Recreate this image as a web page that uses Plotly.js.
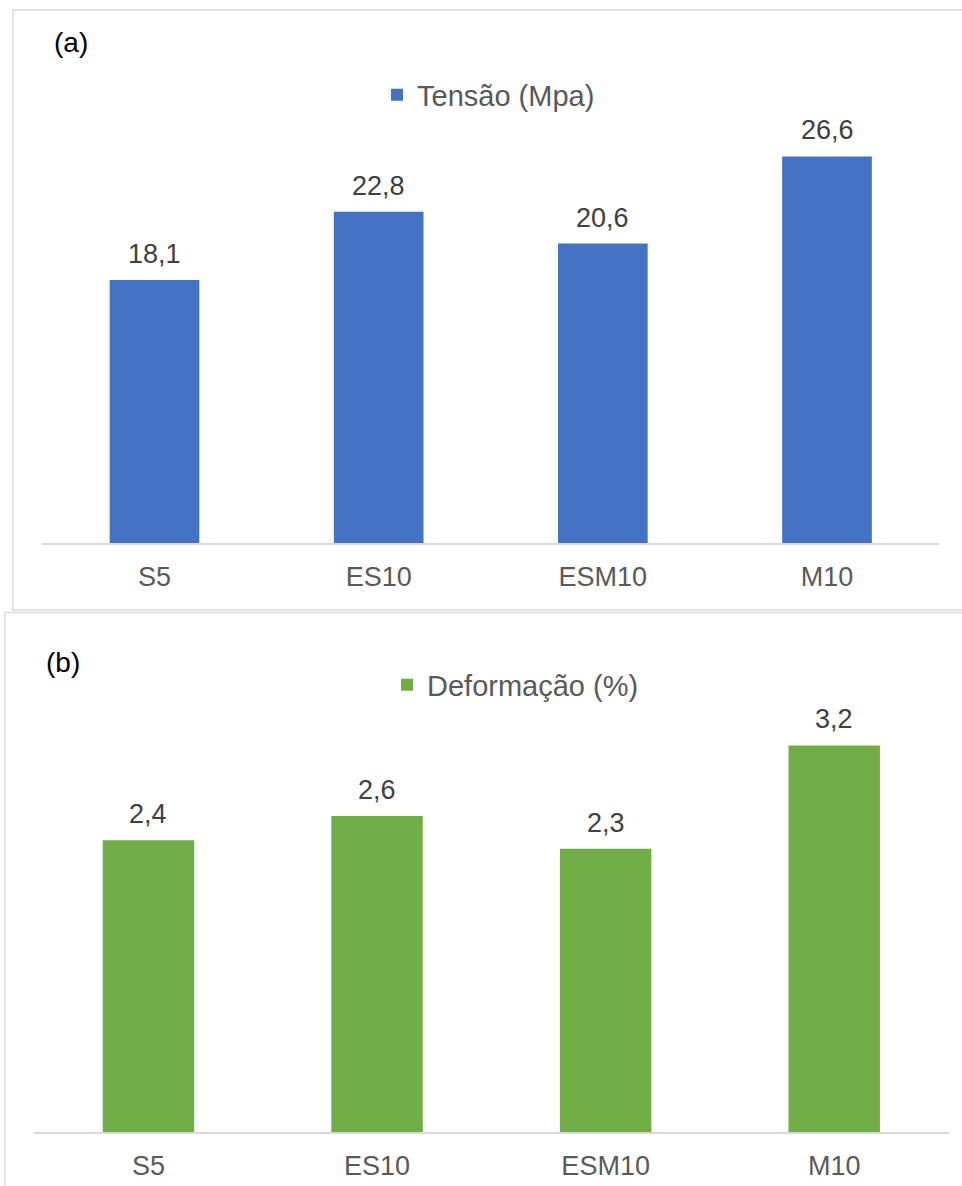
<!DOCTYPE html>
<html>
<head>
<meta charset="utf-8">
<script src="https://cdn.plot.ly/plotly-3.0.1.min.js"></script>
<style>
html,body{margin:0;padding:0;background:#fff;}
#chart{width:962px;height:1186px;}
</style>
</head>
<body>
<div id="chart"></div>
<script>
// ---- data ----
const categories = ["S5", "ES10", "ESM10", "M10"];
const tensao = [18.1, 22.8, 20.6, 26.6];          // Tensão (Mpa)
const deformacao = [2.4, 2.6, 2.33, 3.18];        // Deformação (%)
const tensaoLabels = ["18,1", "22,8", "20,6", "26,6"];
const deformacaoLabels = ["2,4", "2,6", "2,3", "3,2"];
const seriesNames = ["Tensão (Mpa)", "Deformação (%)"];
const panelLabels = ["(a)", "(b)"];

const W = 962, H = 1186;
const FONT = "Liberation Sans, Arial, sans-serif";
const px = v => v / W;
const py = v => 1 - v / H;

const traces = [
  {
    type: "bar", x: categories, y: tensao, name: seriesNames[0],
    xaxis: "x", yaxis: "y", legend: "legend",
    marker: {color: "#4472C4"}, hoverinfo: "x+y"
  },
  {
    type: "bar", x: categories, y: deformacao, name: seriesNames[1],
    xaxis: "x2", yaxis: "y2", legend: "legend2",
    marker: {color: "#70AD47"}, hoverinfo: "x+y"
  }
];

const annotations = [];
categories.forEach((c, i) => {
  annotations.push({x: c, y: tensao[i], xref: "x", yref: "y", text: tensaoLabels[i],
    showarrow: false, yanchor: "bottom", yshift: 9,
    font: {family: FONT, size: 27, color: "#404040"}});
  annotations.push({x: c, y: deformacao[i], xref: "x2", yref: "y2", text: deformacaoLabels[i],
    showarrow: false, yanchor: "bottom", yshift: 9,
    font: {family: FONT, size: 27, color: "#404040"}});
});
annotations.push({x: px(52), y: py(42), xref: "paper", yref: "paper", text: panelLabels[0],
  showarrow: false, xanchor: "left", yanchor: "middle",
  font: {family: FONT, size: 28, color: "#000"}});
annotations.push({x: px(44), y: py(662), xref: "paper", yref: "paper", text: panelLabels[1],
  showarrow: false, xanchor: "left", yanchor: "middle",
  font: {family: FONT, size: 28, color: "#000"}});

const frameLine = {color: "#d9d9d9", width: 1.5};
const shapes = [
  {type: "rect", xref: "paper", yref: "paper", x0: px(13), x1: 1.02, y0: py(10), y1: py(610), line: frameLine},
  {type: "rect", xref: "paper", yref: "paper", x0: px(5), x1: 1.02, y0: py(612.5), y1: -0.02, line: frameLine}
];

const xBase = {
  type: "category", showgrid: false, zeroline: false, showline: true,
  linecolor: "#d9d9d9", linewidth: 1.5, ticks: "", ticklabelstandoff: 9,
  tickfont: {family: FONT, size: 27, color: "#595959"}, fixedrange: true
};
const yBase = {
  showgrid: false, zeroline: false, showline: false, showticklabels: false,
  ticks: "", fixedrange: true
};

const layout = {
  width: W, height: H,
  margin: {l: 0, r: 0, t: 0, b: 0},
  paper_bgcolor: "#fff", plot_bgcolor: "rgba(0,0,0,0)",
  separators: ",.",
  bargap: 0.6,
  font: {family: FONT, color: "#595959"},
  xaxis: Object.assign({}, xBase, {domain: [px(42.4), px(939.1)], anchor: "y"}),
  yaxis: Object.assign({}, yBase, {domain: [py(543), py(107)], range: [0, 30], anchor: "x"}),
  xaxis2: Object.assign({}, xBase, {domain: [px(34.2), px(948.5)], anchor: "y2"}),
  yaxis2: Object.assign({}, yBase, {domain: [py(1132.3), py(706.5)], range: [0, 3.5], anchor: "x2"}),
  legend: {x: px(377), y: py(95), xanchor: "left", yanchor: "middle", orientation: "h",
    font: {family: FONT, size: 29, color: "#595959"}, bgcolor: "rgba(0,0,0,0)"},
  legend2: {x: px(387), y: py(685), xanchor: "left", yanchor: "middle", orientation: "h",
    font: {family: FONT, size: 29, color: "#595959"}, bgcolor: "rgba(0,0,0,0)"},
  showlegend: true,
  annotations: annotations,
  shapes: shapes
};

Plotly.newPlot("chart", traces, layout, {displayModeBar: false, staticPlot: true});
</script>
</body>
</html>
